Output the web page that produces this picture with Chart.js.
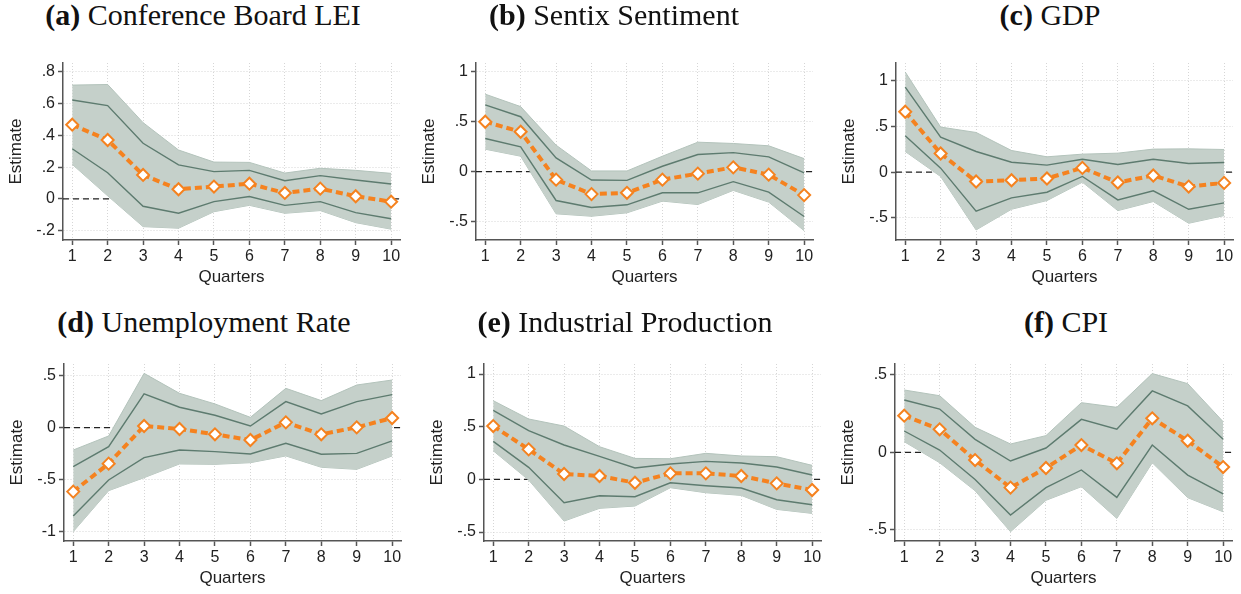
<!DOCTYPE html>
<html>
<head>
<meta charset="UTF-8">
<title>Impulse responses</title>
<script src="https://cdn.jsdelivr.net/npm/chart.js"></script>
<style>
  body { margin: 0; background: #fff; }
  #wrap { position: relative; width: 1241px; height: 594px; overflow: hidden; background: #fff; }
  canvas { position: absolute; }
  .ttl { position: absolute; font-family: 'Liberation Serif', 'Times New Roman', serif; font-size: 30px; line-height: 30px;
         white-space: nowrap; color: #111; transform: translateX(-50%); }
</style>
</head>
<body>
<div id="wrap"></div>
<script>
// horizon (quarters)
const quarters = [1, 2, 3, 4, 5, 6, 7, 8, 9, 10];

// (a) Conference Board LEI
const leiEst     = [0.467, 0.371, 0.151, 0.061, 0.078, 0.096, 0.038, 0.065, 0.017, -0.017];
const leiInnerHi = [0.622, 0.587, 0.350, 0.214, 0.172, 0.180, 0.115, 0.147, 0.119, 0.094];
const leiInnerLo = [0.316, 0.165, -0.046, -0.090, -0.017, 0.015, -0.040, -0.017, -0.086, -0.124];
const leiOuterHi = [0.716, 0.720, 0.480, 0.308, 0.232, 0.230, 0.163, 0.193, 0.180, 0.161];
const leiOuterLo = [0.218, 0.020, -0.174, -0.184, -0.080, -0.040, -0.090, -0.073, -0.149, -0.190];
const leiTicks   = [-0.2, 0, 0.2, 0.4, 0.6, 0.8];

// (b) Sentix Sentiment
const sentixEst     = [0.498, 0.398, -0.080, -0.224, -0.211, -0.080, -0.020, 0.043, -0.030, -0.234];
const sentixInnerHi = [0.666, 0.548, 0.137, -0.084, -0.087, 0.054, 0.171, 0.190, 0.147, -0.013];
const sentixInnerLo = [0.331, 0.247, -0.288, -0.358, -0.331, -0.211, -0.211, -0.100, -0.204, -0.448];
const sentixOuterHi = [0.773, 0.649, 0.264, 0.007, 0.007, 0.154, 0.294, 0.281, 0.258, 0.130];
const sentixOuterLo = [0.224, 0.154, -0.421, -0.445, -0.411, -0.294, -0.328, -0.187, -0.304, -0.589];
const sentixTicks   = [-0.5, 0, 0.5, 1];

// (c) GDP
const gdpEst     = [0.660, 0.204, -0.102, -0.088, -0.069, 0.047, -0.113, -0.036, -0.157, -0.117];
const gdpInnerHi = [0.930, 0.383, 0.226, 0.109, 0.077, 0.142, 0.084, 0.142, 0.095, 0.106];
const gdpInnerLo = [0.398, 0.044, -0.427, -0.281, -0.219, -0.047, -0.303, -0.204, -0.405, -0.336];
const gdpOuterHi = [1.095, 0.493, 0.434, 0.237, 0.168, 0.197, 0.208, 0.252, 0.255, 0.248];
const gdpOuterLo = [0.226, -0.047, -0.631, -0.405, -0.310, -0.109, -0.420, -0.321, -0.558, -0.474];
const gdpTicks   = [-0.5, 0, 0.5, 1];

// (d) Unemployment Rate
const unempEst     = [-0.615, -0.346, 0.016, -0.013, -0.064, -0.119, 0.051, -0.064, 0.003, 0.093];
const unempInnerHi = [-0.375, -0.183, 0.324, 0.196, 0.119, 0.016, 0.250, 0.131, 0.250, 0.317];
const unempInnerLo = [-0.849, -0.503, -0.288, -0.215, -0.231, -0.253, -0.151, -0.256, -0.247, -0.128];
const unempOuterHi = [-0.215, -0.080, 0.522, 0.330, 0.228, 0.099, 0.378, 0.260, 0.410, 0.458];
const unempOuterLo = [-1.000, -0.606, -0.481, -0.349, -0.353, -0.337, -0.272, -0.381, -0.401, -0.272];
const unempTicks   = [-1, -0.5, 0, 0.5];

// (e) Industrial Production
const ipEst     = [0.506, 0.285, 0.051, 0.032, -0.032, 0.057, 0.057, 0.032, -0.038, -0.101];
const ipInnerHi = [0.655, 0.462, 0.326, 0.218, 0.108, 0.146, 0.171, 0.155, 0.117, 0.041];
const ipInnerLo = [0.361, 0.114, -0.222, -0.155, -0.165, -0.032, -0.060, -0.082, -0.193, -0.241];
const ipOuterHi = [0.747, 0.573, 0.506, 0.310, 0.199, 0.196, 0.247, 0.222, 0.215, 0.133];
const ipOuterLo = [0.272, -0.006, -0.396, -0.275, -0.253, -0.079, -0.127, -0.152, -0.285, -0.323];
const ipTicks   = [-0.5, 0, 0.5, 1];

// (f) CPI
const cpiEst     = [0.237, 0.149, -0.050, -0.228, -0.101, 0.047, -0.071, 0.220, 0.075, -0.095];
const cpiInnerHi = [0.338, 0.280, 0.084, -0.056, 0.028, 0.213, 0.149, 0.397, 0.300, 0.084];
const cpiInnerLo = [0.138, 0.015, -0.175, -0.405, -0.228, -0.114, -0.291, 0.047, -0.147, -0.269];
const cpiOuterHi = [0.403, 0.366, 0.162, 0.054, 0.108, 0.321, 0.291, 0.509, 0.444, 0.198];
const cpiOuterLo = [0.069, -0.067, -0.248, -0.513, -0.310, -0.222, -0.427, -0.067, -0.293, -0.384];
const cpiTicks   = [-0.5, 0, 0.5];

const panels = [
  { tag: '(a)', name: 'Conference Board LEI', est: leiEst, inHi: leiInnerHi, inLo: leiInnerLo, outHi: leiOuterHi, outLo: leiOuterLo,
    ticks: leiTicks, yMin: -0.258, yMax: 0.855, area: { l: 63, t: 63, r: 400, b: 240 }, titleX: 203, titleY: 0 },
  { tag: '(b)', name: 'Sentix Sentiment', est: sentixEst, inHi: sentixInnerHi, inLo: sentixInnerLo, outHi: sentixOuterHi, outLo: sentixOuterLo,
    ticks: sentixTicks, yMin: -0.682, yMax: 1.084, area: { l: 476, t: 63, r: 813, b: 240 }, titleX: 614, titleY: 0 },
  { tag: '(c)', name: 'GDP', est: gdpEst, inHi: gdpInnerHi, inLo: gdpInnerLo, outHi: gdpOuterHi, outLo: gdpOuterLo,
    ticks: gdpTicks, yMin: -0.741, yMax: 1.193, area: { l: 895.5, t: 63, r: 1232.5, b: 240 }, titleX: 1050, titleY: 0 },
  { tag: '(d)', name: 'Unemployment Rate', est: unempEst, inHi: unempInnerHi, inLo: unempInnerLo, outHi: unempOuterHi, outLo: unempOuterLo,
    ticks: unempTicks, yMin: -1.09, yMax: 0.612, area: { l: 63.5, t: 364, r: 400.5, b: 541 }, titleX: 204, titleY: 307 },
  { tag: '(e)', name: 'Industrial Production', est: ipEst, inHi: ipInnerHi, inLo: ipInnerLo, outHi: ipOuterHi, outLo: ipOuterLo,
    ticks: ipTicks, yMin: -0.585, yMax: 1.095, area: { l: 483.5, t: 364, r: 820.5, b: 541 }, titleX: 625, titleY: 307 },
  { tag: '(f)', name: 'CPI', est: cpiEst, inHi: cpiInnerHi, inLo: cpiInnerLo, outHi: cpiOuterHi, outLo: cpiOuterLo,
    ticks: cpiTicks, yMin: -0.573, yMax: 0.571, area: { l: 895, t: 364, r: 1232, b: 541 }, titleX: 1066, titleY: 307 }
];

const X_MIN = 0.74, X_MAX = 10.25;
const SANS = "'Liberation Sans', Arial, sans-serif";
const ORANGE = '#f5821f';
const BAND = '#c5d0ca';
const BAND_EDGE = '#b3c3bb';
const INNER = '#5d7b6f';
const AXIS = '#555555';

// stata style labels: .5, -.5, 0, 1
const fmt = v => String(Math.round(v * 100) / 100).replace(/^(-?)0\./, '$1.');
const xy = arr => arr.map((v, i) => ({ x: quarters[i], y: v }));

const wrap = document.getElementById('wrap');

panels.forEach(p => {
  const Y_AXIS_W = 63, X_AXIS_H = 53;
  const cx = p.area.l - Y_AXIS_W;
  const cy = p.area.t - 25;
  const cw = Math.round(p.area.r - cx + 16);
  const ch = Math.round(p.area.b + X_AXIS_H - cy);

  const canvas = document.createElement('canvas');
  canvas.width = cw; canvas.height = ch;
  canvas.style.left = cx + 'px'; canvas.style.top = cy + 'px';
  wrap.appendChild(canvas);

  const t = document.createElement('div');
  t.className = 'ttl';
  t.style.left = p.titleX + 'px';
  t.style.top = p.titleY + 'px';
  t.innerHTML = '<b>' + p.tag + '</b> ' + p.name;
  wrap.appendChild(t);

  new Chart(canvas, {
    type: 'line',
    data: {
      datasets: [
        { data: [{ x: X_MIN, y: 0 }, { x: X_MAX, y: 0 }], borderColor: '#222', borderWidth: 1.3, borderDash: [6, 4],
          pointRadius: 0, fill: false, order: 5 },
        { data: xy(p.outLo), borderColor: BAND_EDGE, borderWidth: 1, pointRadius: 0, fill: false, order: 4 },
        { data: xy(p.outHi), borderColor: BAND_EDGE, borderWidth: 1, pointRadius: 0, fill: '-1', backgroundColor: BAND, order: 3 },
        { data: xy(p.inLo), borderColor: INNER, borderWidth: 1.4, pointRadius: 0, fill: false, order: 2 },
        { data: xy(p.inHi), borderColor: INNER, borderWidth: 1.4, pointRadius: 0, fill: false, order: 2 },
        { data: xy(p.est), borderColor: ORANGE, borderWidth: 4, borderDash: [7, 4], fill: false,
          pointStyle: 'rectRot', pointRadius: 6, pointBorderWidth: 2, pointBackgroundColor: '#fff', pointBorderColor: ORANGE, order: 0 }
      ]
    },
    options: {
      responsive: false,
      animation: false,
      layout: { padding: { left: 0, top: p.area.t - cy, right: cx + cw - p.area.r, bottom: 0 } },
      plugins: { legend: { display: false }, tooltip: { enabled: false } },
      scales: {
        x: {
          type: 'linear', min: X_MIN, max: X_MAX,
          afterBuildTicks: s => { s.ticks = quarters.map(v => ({ value: v })); },
          afterFit: s => { s.height = X_AXIS_H; },
          ticks: { font: { family: SANS, size: 16 }, color: '#222', padding: 2, maxRotation: 0 },
          grid: { color: '#d6d6d6', lineWidth: 1, tickLength: 5, tickColor: AXIS, tickWidth: 1.5 },
          border: { color: AXIS, width: 1.5, dash: [1, 2] },
          title: { display: true, text: 'Quarters', font: { family: SANS, size: 17 }, color: '#222', padding: { bottom: 5.8 } }
        },
        y: {
          type: 'linear', min: p.yMin, max: p.yMax,
          afterBuildTicks: s => { s.ticks = p.ticks.map(v => ({ value: v })); },
          afterFit: s => { s.width = Y_AXIS_W; },
          ticks: { font: { family: SANS, size: 16 }, color: '#222', padding: 3, callback: v => fmt(v) },
          grid: { color: '#d6d6d6', lineWidth: 1, tickLength: 5, tickColor: AXIS, tickWidth: 1.5 },
          border: { color: AXIS, width: 1.5, dash: [1, 2] },
          title: { display: true, text: 'Estimate', font: { family: SANS, size: 17 }, color: '#222', padding: { top: 5.8 } }
        }
      }
    }
  });
});
</script>
</body>
</html>
